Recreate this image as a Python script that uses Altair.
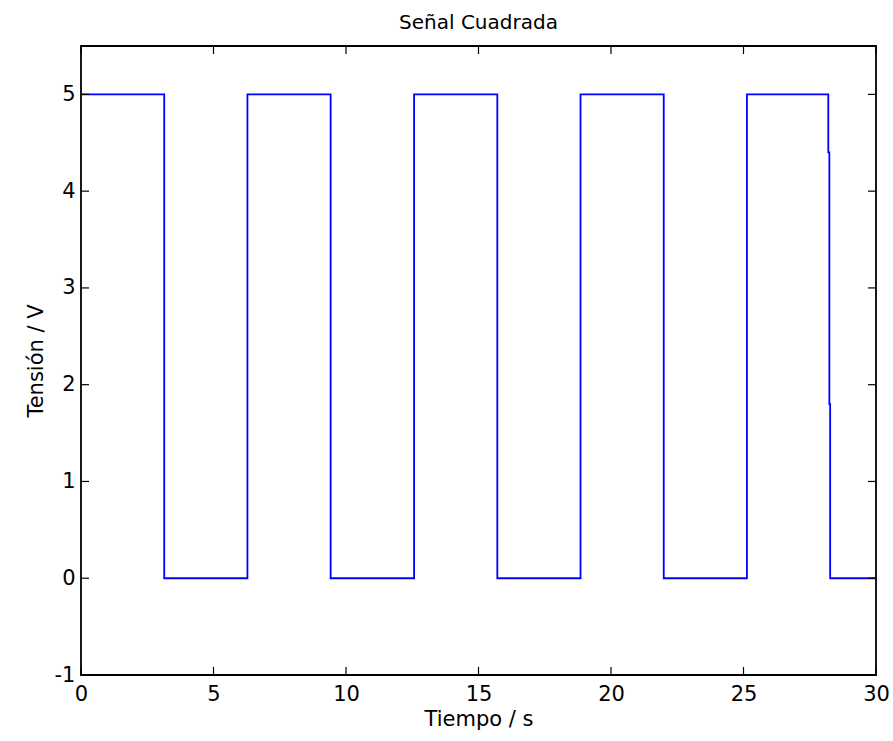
import altair as alt
import pandas as pd

# step signal vertices (time in s, voltage in V)
t_vals = [0.0, 3.14, 3.14, 6.28, 6.28, 9.42, 9.42, 12.57, 12.57, 15.71, 15.71,
          18.85, 18.85, 21.99, 21.99, 25.13, 25.13, 28.20, 28.20, 28.24, 28.24,
          28.27, 28.27, 30.0]
v_vals = [5, 5, 0, 0, 5, 5, 0, 0, 5, 5, 0,
          0, 5, 5, 0, 0, 5, 5, 4.4, 4.4, 1.8,
          1.8, 0, 0]

x_ticks = [0, 5, 10, 15, 20, 25, 30]
y_ticks = [-1, 0, 1, 2, 3, 4, 5]

W, H = 795, 629
FONT = "DejaVu Sans"

df = pd.DataFrame({"t": t_vals, "v": v_vals, "i": list(range(len(t_vals)))})
xt = pd.DataFrame({"x": x_ticks})
yt = pd.DataFrame({"y": y_ticks})

xscale = alt.Scale(domain=[0, 30], nice=False, zero=False)
yscale = alt.Scale(domain=[-1, 5.5], nice=False, zero=False)

line = alt.Chart(df).mark_line(color="#0000ff", strokeWidth=1.8, clip=True).encode(
    x=alt.X("t:Q", scale=xscale,
            axis=alt.Axis(values=x_ticks, labelExpr="'' + datum.value", title="Tiempo / s",
                          ticks=False, domain=False, grid=False, labelFontSize=21,
                          titleFontSize=21, labelPadding=8, titlePadding=4, labelFont=FONT,
                          titleFont=FONT, labelColor="black", titleColor="black",
                          titleFontWeight="normal", labelFlush=False)),
    y=alt.Y("v:Q", scale=yscale,
            axis=alt.Axis(values=y_ticks, labelExpr="'' + datum.value", title="Tensión / V",
                          ticks=False, domain=False, grid=False, labelFontSize=21,
                          titleFontSize=21, labelPadding=6, titlePadding=8, labelFont=FONT,
                          titleFont=FONT, labelColor="black", titleColor="black",
                          titleFontWeight="normal", labelFlush=False)),
    order="i:Q",
)

tick_len = 8
xb = alt.Chart(xt).mark_rule(color="black", strokeWidth=1.2).encode(
    x=alt.X("x:Q", scale=xscale), y=alt.value(H), y2=alt.value(H - tick_len))
xtop = alt.Chart(xt).mark_rule(color="black", strokeWidth=1.2).encode(
    x=alt.X("x:Q", scale=xscale), y=alt.value(0), y2=alt.value(tick_len))
yl = alt.Chart(yt).mark_rule(color="black", strokeWidth=1.2).encode(
    y=alt.Y("y:Q", scale=yscale), x=alt.value(0), x2=alt.value(tick_len))
yr = alt.Chart(yt).mark_rule(color="black", strokeWidth=1.2).encode(
    y=alt.Y("y:Q", scale=yscale), x=alt.value(W), x2=alt.value(W - tick_len))

chart = alt.layer(line, xb, xtop, yl, yr).properties(
    width=W, height=H,
    title=alt.TitleParams("Señal Cuadrada", fontSize=20, font=FONT, fontWeight="normal",
                          color="black", offset=12),
    autosize=alt.AutoSizeParams(type="none"),
    padding={"left": 81, "top": 46, "right": 17, "bottom": 66},
).configure(background="white").configure_view(stroke="black", strokeWidth=1.8)

chart.save("out.html", embed_options={"renderer": "svg", "actions": False})
